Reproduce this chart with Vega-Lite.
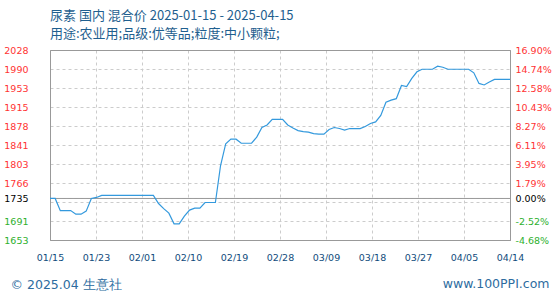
{
  "$schema": "https://vega.github.io/schema/vega-lite/v6.json",
  "width": 460,
  "height": 190,
  "autosize": {"type": "none"},
  "padding": {"left": 50, "top": 50, "right": 50, "bottom": 60},
  "background": "white",
  "title": {
    "text": ["尿素 国内 混合价 2025-01-15 - 2025-04-15", "用途:农业用;品级:优等品;粒度:中小颗粒;"],
    "anchor": "start",
    "frame": "group",
    "font": "Noto Sans CJK SC",
    "fontSize": 13,
    "fontWeight": "normal",
    "color": "#1f5f8f",
    "lineHeight": 18,
    "offset": -9,
    "baseline": "bottom"
  },
  "config": {
    "view": {"stroke": "#999999", "strokeWidth": 1},
    "axis": {"labelFont": "DejaVu Sans", "labelFontSize": 9.5, "labelOverlap": false, "labelFlush": false, "labelBound": false}
  },
  "data": {"values": [
    {"date": "2025-01-15", "price": 1735},
    {"date": "2025-01-16", "price": 1735},
    {"date": "2025-01-17", "price": 1711},
    {"date": "2025-01-18", "price": 1711},
    {"date": "2025-01-19", "price": 1711},
    {"date": "2025-01-20", "price": 1704},
    {"date": "2025-01-21", "price": 1704},
    {"date": "2025-01-22", "price": 1710},
    {"date": "2025-01-23", "price": 1735},
    {"date": "2025-01-24", "price": 1737},
    {"date": "2025-01-25", "price": 1741},
    {"date": "2025-01-26", "price": 1741},
    {"date": "2025-01-27", "price": 1741},
    {"date": "2025-01-28", "price": 1741},
    {"date": "2025-01-29", "price": 1741},
    {"date": "2025-01-30", "price": 1741},
    {"date": "2025-01-31", "price": 1741},
    {"date": "2025-02-01", "price": 1741},
    {"date": "2025-02-02", "price": 1741},
    {"date": "2025-02-03", "price": 1741},
    {"date": "2025-02-04", "price": 1741},
    {"date": "2025-02-05", "price": 1725},
    {"date": "2025-02-06", "price": 1715},
    {"date": "2025-02-07", "price": 1706},
    {"date": "2025-02-08", "price": 1685},
    {"date": "2025-02-09", "price": 1685},
    {"date": "2025-02-10", "price": 1700},
    {"date": "2025-02-11", "price": 1712},
    {"date": "2025-02-12", "price": 1716},
    {"date": "2025-02-13", "price": 1716},
    {"date": "2025-02-14", "price": 1727},
    {"date": "2025-02-15", "price": 1727},
    {"date": "2025-02-16", "price": 1727},
    {"date": "2025-02-17", "price": 1800},
    {"date": "2025-02-18", "price": 1843},
    {"date": "2025-02-19", "price": 1852},
    {"date": "2025-02-20", "price": 1852},
    {"date": "2025-02-21", "price": 1844},
    {"date": "2025-02-22", "price": 1844},
    {"date": "2025-02-23", "price": 1844},
    {"date": "2025-02-24", "price": 1856},
    {"date": "2025-02-25", "price": 1875},
    {"date": "2025-02-26", "price": 1880},
    {"date": "2025-02-27", "price": 1891},
    {"date": "2025-02-28", "price": 1891},
    {"date": "2025-03-01", "price": 1891},
    {"date": "2025-03-02", "price": 1880},
    {"date": "2025-03-03", "price": 1874},
    {"date": "2025-03-04", "price": 1869},
    {"date": "2025-03-05", "price": 1867},
    {"date": "2025-03-06", "price": 1866},
    {"date": "2025-03-07", "price": 1863},
    {"date": "2025-03-08", "price": 1862},
    {"date": "2025-03-09", "price": 1862},
    {"date": "2025-03-10", "price": 1871},
    {"date": "2025-03-11", "price": 1875},
    {"date": "2025-03-12", "price": 1873},
    {"date": "2025-03-13", "price": 1870},
    {"date": "2025-03-14", "price": 1873},
    {"date": "2025-03-15", "price": 1873},
    {"date": "2025-03-16", "price": 1873},
    {"date": "2025-03-17", "price": 1877},
    {"date": "2025-03-18", "price": 1883},
    {"date": "2025-03-19", "price": 1886},
    {"date": "2025-03-20", "price": 1899},
    {"date": "2025-03-21", "price": 1925},
    {"date": "2025-03-22", "price": 1929},
    {"date": "2025-03-23", "price": 1932},
    {"date": "2025-03-24", "price": 1958},
    {"date": "2025-03-25", "price": 1956},
    {"date": "2025-03-26", "price": 1972},
    {"date": "2025-03-27", "price": 1985},
    {"date": "2025-03-28", "price": 1990},
    {"date": "2025-03-29", "price": 1990},
    {"date": "2025-03-30", "price": 1990},
    {"date": "2025-03-31", "price": 1996},
    {"date": "2025-04-01", "price": 1994},
    {"date": "2025-04-02", "price": 1990},
    {"date": "2025-04-03", "price": 1990},
    {"date": "2025-04-04", "price": 1990},
    {"date": "2025-04-05", "price": 1990},
    {"date": "2025-04-06", "price": 1990},
    {"date": "2025-04-07", "price": 1983},
    {"date": "2025-04-08", "price": 1962},
    {"date": "2025-04-09", "price": 1959},
    {"date": "2025-04-10", "price": 1965},
    {"date": "2025-04-11", "price": 1970},
    {"date": "2025-04-12", "price": 1970},
    {"date": "2025-04-13", "price": 1970},
    {"date": "2025-04-14", "price": 1970}
  ]},
  "layer": [
    {
      "data": {"values": [{"base": 1735}]},
      "mark": {"type": "rule", "color": "#999999", "strokeWidth": 1},
      "encoding": {
        "y": {
          "field": "base",
          "type": "quantitative",
          "scale": {"domain": [1653, 2028], "nice": false, "zero": false},
          "axis": {
            "orient": "right",
            "values": [1653, 1690.5, 1728, 1735, 1765.5, 1803, 1840.5, 1878, 1915.5, 1953, 1990.5, 2028],
            "labelExpr": "['-4.68%','-2.52%','','0.00%','1.79%','3.95%','6.11%','8.27%','10.43%','12.58%','14.74%','16.90%'][indexof([1653,1690.5,1728,1735,1765.5,1803,1840.5,1878,1915.5,1953,1990.5,2028], datum.value)]",
            "grid": false,
            "ticks": false,
            "domain": true,
            "domainColor": "#999999",
            "domainWidth": 1,
            "encode": {"domain": {"update": {"x": {"value": 49.5}, "y": {"value": -50}, "y2": {"value": 250}}}},
            "labelPadding": 5,
            "labelColor": {"condition": [{"test": "datum.value > 1736", "value": "#ff3333"}, {"test": "datum.value < 1734", "value": "#2db02d"}], "value": "#000000"},
            "title": "www.100PPI.com",
            "titleAngle": 0,
            "titleX": 39,
            "titleY": 233,
            "titleAlign": "right",
            "titleBaseline": "middle",
            "titleFont": "DejaVu Sans",
            "titleFontSize": 12.5,
            "titleFontWeight": "normal",
            "titleColor": "#2d6ca0"
          }
        }
      }
    },
    {
      "mark": {"type": "line", "color": "#3399dd", "strokeWidth": 1.2, "interpolate": "linear"},
      "encoding": {
        "x": {
          "field": "date",
          "type": "temporal",
          "scale": {"type": "utc", "domain": [1736899200000, 1744588800000], "nice": false},
          "axis": {
            "orient": "bottom",
            "values": [1736899200000, 1737668160000, 1738437120000, 1739206080000, 1739975040000, 1740744000000, 1741512960000, 1742281920000, 1743050880000, 1743819840000, 1744588800000],
            "format": "%m/%d",
            "grid": true,
            "gridColor": "#cccccc",
            "gridDash": [3, 3],
            "ticks": false,
            "labelPadding": 12,
            "labelColor": "#0f4c7c",
            "domain": true,
            "domainColor": "#aaaaaa",
            "encode": {"domain": {"update": {"x": {"value": -40}, "x2": {"value": 501}, "y": {"value": 33}}}},
            "title": "© 2025.04 生意社",
            "titleX": -40,
            "titleY": 44,
            "titleAlign": "left",
            "titleAnchor": null,
            "titleBaseline": "middle",
            "titleFont": "DejaVu Sans",
            "titleFontSize": 12.5,
            "titleFontWeight": "normal",
            "titleColor": "#2d6ca0"
          }
        },
        "y": {
          "field": "price",
          "type": "quantitative",
          "scale": {"domain": [1653, 2028], "nice": false, "zero": false},
          "axis": {
            "orient": "left",
            "values": [1653, 1690.5, 1728, 1735, 1765.5, 1803, 1840.5, 1878, 1915.5, 1953, 1990.5, 2028],
            "labelExpr": "['1653','1691','','1735','1766','1803','1841','1878','1915','1953','1990','2028'][indexof([1653,1690.5,1728,1735,1765.5,1803,1840.5,1878,1915.5,1953,1990.5,2028], datum.value)]",
            "grid": true,
            "gridColor": "#cccccc",
            "gridDash": [3, 3],
            "ticks": false,
            "domain": true,
            "domainColor": "#999999",
            "domainWidth": 1,
            "encode": {"domain": {"update": {"x": {"value": -49.5}, "y": {"value": -50}, "y2": {"value": 250}}}},
            "labelPadding": 22,
            "labelColor": {"condition": [{"test": "datum.value > 1736", "value": "#ff3333"}, {"test": "datum.value < 1734", "value": "#2db02d"}], "value": "#000000"},
            "title": null
          }
        }
      }
    },
    {
      "mark": {"type": "line", "opacity": 0},
      "encoding": {
        "x": {
          "field": "date",
          "type": "temporal",
          "scale": {"type": "utc", "domain": [1736899200000, 1744588800000], "nice": false},
          "axis": {
            "orient": "top",
            "labels": false,
            "ticks": false,
            "grid": false,
            "title": null,
            "domain": true,
            "domainColor": "#999999",
            "domainWidth": 1,
            "encode": {"domain": {"update": {"x": {"value": -50}, "x2": {"value": 510}, "y": {"value": -49.5}}}}
          }
        },
        "y": {"field": "price", "type": "quantitative", "scale": {"domain": [1653, 2028], "nice": false, "zero": false}, "axis": null}
      }
    },
    {
      "mark": {"type": "line", "opacity": 0},
      "encoding": {
        "x": {
          "field": "date",
          "type": "temporal",
          "scale": {"type": "utc", "domain": [1736899200000, 1744588800000], "nice": false},
          "axis": {
            "orient": "bottom",
            "labels": false,
            "ticks": false,
            "grid": false,
            "title": null,
            "domain": true,
            "domainColor": "#999999",
            "domainWidth": 1,
            "encode": {"domain": {"update": {"x": {"value": -50}, "x2": {"value": 510}, "y": {"value": 59.5}}}}
          }
        },
        "y": {"field": "price", "type": "quantitative", "scale": {"domain": [1653, 2028], "nice": false, "zero": false}, "axis": null}
      }
    }
  ],
  "resolve": {"scale": {"y": "independent", "x": "independent"}, "axis": {"y": "independent", "x": "independent"}}
}
